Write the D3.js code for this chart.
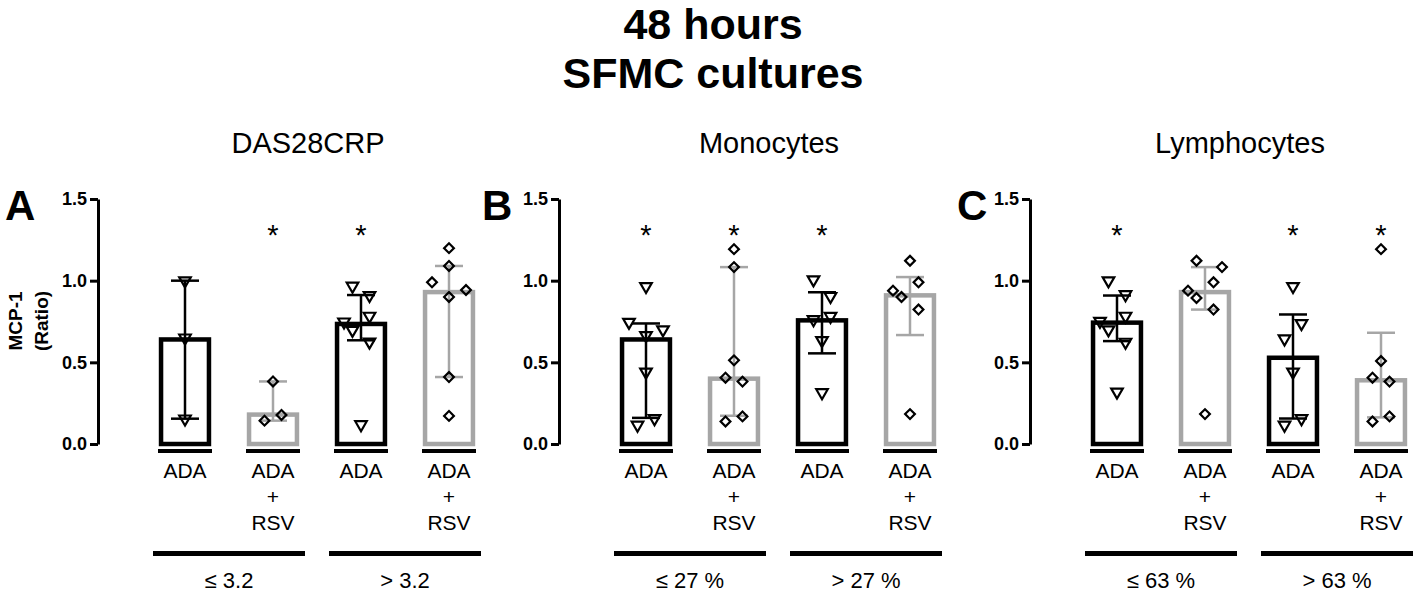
<!DOCTYPE html>
<html>
<head>
<meta charset="utf-8">
<script src="https://cdn.jsdelivr.net/npm/d3@7"></script>
<style>
  body { margin: 0; background: #fff; }
  svg { display: block; font-family: "Liberation Sans", Arial, sans-serif; }
</style>
</head>
<body>
<svg id="chart" width="1418" height="594"></svg>
<script>
// data
const titleLines = ['48 hours', 'SFMC cultures'];
const panelTitles = ['DAS28CRP', 'Monocytes', 'Lymphocytes'];
const panelLetters = ['A', 'B', 'C'];
const categories = [['ADA'], ['ADA', '+', 'RSV'], ['ADA'], ['ADA', '+', 'RSV']];
const treated = [false, true, false, true];
const groupLabels = [['≤ 3.2', '> 3.2'], ['≤ 27 %', '> 27 %'], ['≤ 63 %', '> 63 %']];
const yTicks = [0, 0.5, 1.0, 1.5];

// bar height (median) per panel / group
const medians = [
  [0.64, 0.18, 0.735, 0.93],
  [0.64, 0.40, 0.757, 0.91],
  [0.743, 0.93, 0.528, 0.39]
];
const errLow = [
  [0.155, 0.143, 0.635, 0.41],
  [0.16, 0.173, 0.555, 0.667],
  [0.63, 0.823, 0.156, 0.163]
];
const errHigh = [
  [1.0, 0.383, 0.912, 1.09],
  [0.738, 1.083, 0.929, 1.022],
  [0.909, 1.083, 0.793, 0.681]
];
const significant = [
  [false, true, true, false],
  [true, true, true, false],
  [true, false, true, true]
];

// individual values and their jitter column
const pointValues = [
  [
    [1.0, 0.65, 0.154],
    [0.383, 0.178, 0.143],
    [0.967, 0.91, 0.748, 0.783, 0.697, 0.625, 0.119],
    [1.199, 1.09, 0.99, 0.90, 0.943, 0.41, 0.172]
  ],
  [
    [0.965, 0.746, 0.70, 0.665, 0.441, 0.116, 0.156],
    [1.193, 1.083, 0.512, 0.406, 0.382, 0.138, 0.169],
    [1.006, 0.904, 0.762, 0.782, 0.634, 0.315],
    [1.122, 0.99, 0.939, 0.90, 0.823, 0.183]
  ],
  [
    [1.0, 0.915, 0.752, 0.783, 0.70, 0.624, 0.319],
    [1.122, 1.083, 0.99, 0.939, 0.894, 0.823, 0.183],
    [0.965, 0.738, 0.644, 0.441, 0.116, 0.156],
    [1.193, 0.508, 0.406, 0.382, 0.138, 0.169]
  ]
];
const pointJitter = [
  [
    [0, 0, 0],
    [0, 1, -1],
    [-1, 1, -2, 1, -1, 1, 0],
    [0, 0, -2, 0, 2, 0, 0]
  ],
  [
    [0, -2, 2, 0, 0, -1, 1],
    [0, 0, 0, -1, 1, -1, 1],
    [-1, 1, -1, 1, 0, 0],
    [0, 1, -2, -1, 1, 0]
  ],
  [
    [-1, 1, -2, 1, -1, 1, 0],
    [-1, 2, 1, -2, -1, 1, 0],
    [0, 1, -1, 0, -1, 1],
    [0, 0, -1, 1, -1, 1]
  ]
];

// layout
const axisX = [98, 559, 1030];
const letterX = [5, 482, 957];
const black = '#000';
const grey = '#a6a6a6';

const svg = d3.select('#chart');

// 标题
svg.selectAll('text.title')
  .data(titleLines)
  .join('text')
  .attr('class', 'title')
  .attr('x', 713)
  .attr('y', (d, i) => 39 + i * 49)
  .attr('text-anchor', 'middle')
  .style('font-size', '43px')
  .style('font-weight', 'bold')
  .text((d) => d);

const y = d3.scaleLinear().domain([0, 1.5]).range([444, 199]);
const jitter = d3.scaleLinear().domain([-1, 1]).range([-8.5, 8.5]);

panelTitles.forEach((title, p) => {
  const g = svg.append('g');
  const x0 = axisX[p];

  const x = d3.scaleBand()
    .domain(d3.range(categories.length))
    .range([x0 + 43, x0 + 43 + 88 * categories.length])
    .paddingInner(0.41)
    .paddingOuter(0.205);
  const cx = (i) => x(i) + x.bandwidth() / 2;

  // panel title + letter
  g.append('text')
    .attr('x', x0 + 210)
    .attr('y', 153)
    .attr('text-anchor', 'middle')
    .style('font-size', '29px')
    .text(title);

  g.append('text')
    .attr('x', letterX[p])
    .attr('y', 220)
    .style('font-size', '42px')
    .style('font-weight', 'bold')
    .text(panelLetters[p]);

  // Y 轴
  const axis = g.append('g')
    .attr('transform', `translate(${x0},0)`)
    .call(d3.axisLeft(y).tickValues(yTicks).tickFormat(d3.format('.1f')).tickSize(8).tickSizeOuter(0));
  axis.select('.domain').attr('stroke', black).attr('stroke-width', 3);
  axis.selectAll('.tick line').attr('stroke', black).attr('stroke-width', 3);
  axis.selectAll('.tick text')
    .attr('fill', black)
    .style('font-size', '18px')
    .style('font-weight', 'bold')
    .style('font-family', '"Liberation Sans", Arial, sans-serif');

  if (p === 0) {
    [['MCP-1', 22], ['(Ratio)', 48]].forEach(([t, bx]) => {
      g.append('text')
        .attr('transform', `translate(${bx},321) rotate(-90)`)
        .attr('text-anchor', 'middle')
        .style('font-size', '19px')
        .style('font-weight', 'bold')
        .text(t);
    });
  }

  // bars
  g.selectAll('rect.bar')
    .data(medians[p])
    .join('rect')
    .attr('class', 'bar')
    .attr('x', (d, i) => x(i) + 2)
    .attr('width', x.bandwidth() - 4)
    .attr('y', (d) => y(d))
    .attr('height', (d) => y(0) - y(d))
    .attr('fill', 'none')
    .attr('stroke', (d, i) => (treated[i] ? grey : black))
    .attr('stroke-width', 4.5);

  // error bars
  medians[p].forEach((m, i) => {
    const col = treated[i] ? grey : black;
    const c = cx(i);
    g.append('line')
      .attr('x1', c).attr('x2', c)
      .attr('y1', y(errLow[p][i])).attr('y2', y(errHigh[p][i]))
      .attr('stroke', col).attr('stroke-width', 2.5);
    [errLow[p][i], errHigh[p][i]].forEach((v) => {
      g.append('line')
        .attr('x1', c - 14).attr('x2', c + 14)
        .attr('y1', y(v)).attr('y2', y(v))
        .attr('stroke', col).attr('stroke-width', 2.5);
    });
  });

  // points
  const tri = d3.symbol().type(d3.symbolTriangle).size(58);
  const dia = d3.symbol().type(d3.symbolSquare).size(48);
  pointValues[p].forEach((vals, i) => {
    g.selectAll(null)
      .data(vals)
      .join('path')
      .attr('d', treated[i] ? dia : tri)
      .attr('transform', (d, k) =>
        `translate(${cx(i) + jitter(pointJitter[p][i][k])},${y(d)}) rotate(${treated[i] ? 45 : 180})`)
      .attr('fill', 'none')
      .attr('stroke', black)
      .attr('stroke-width', 2.2);
  });

  // significance
  g.selectAll('text.star')
    .data(significant[p])
    .join('text')
    .attr('class', 'star')
    .attr('x', (d, i) => cx(i))
    .attr('y', y(1.32))
    .attr('dy', '0.58em')
    .attr('text-anchor', 'middle')
    .style('font-size', '29px')
    .text((d) => (d ? '*' : ''));

  // category underline + labels
  categories.forEach((lines, i) => {
    g.append('rect')
      .attr('x', cx(i) - 27).attr('width', 54)
      .attr('y', y(0) + 5).attr('height', 4)
      .attr('fill', black);
    g.append('text')
      .attr('text-anchor', 'middle')
      .style('font-size', '21px')
      .selectAll('tspan')
      .data(lines)
      .join('tspan')
      .attr('x', cx(i))
      .attr('y', (d, k) => y(0) + 34 + k * 26)
      .text((d) => d);
  });

  // group lines
  groupLabels[p].forEach((lab, gI) => {
    const a = cx(gI * 2) - 32;
    const b = cx(gI * 2 + 1) + 32;
    g.append('rect')
      .attr('x', a).attr('width', b - a)
      .attr('y', 551).attr('height', 5)
      .attr('fill', black);
    g.append('text')
      .attr('x', (a + b) / 2)
      .attr('y', 588)
      .attr('text-anchor', 'middle')
      .style('font-size', '22px')
      .text(lab);
  });
});
</script>
</body>
</html>
